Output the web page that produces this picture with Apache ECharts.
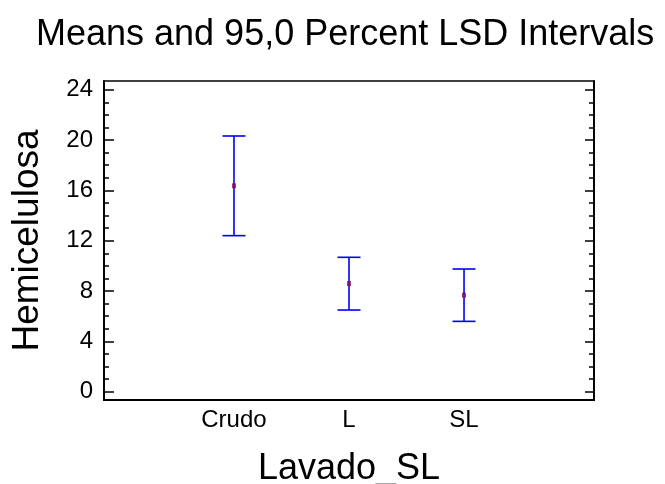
<!DOCTYPE html>
<html>
<head>
<meta charset="utf-8">
<script src="https://cdn.jsdelivr.net/npm/echarts@6/dist/echarts.min.js"></script>
<style>
  html, body { margin: 0; padding: 0; background: #fff; }
  #chart { width: 665px; height: 484px; }
</style>
</head>
<body>
<div id="chart"></div>
<script>
// Group labels and their positions on the x scale
const categories = ['Crudo', 'L', 'SL'];
const categoryPos = [1, 2, 3];

// Group means of Hemicelulosa with 95,0 % LSD interval limits
const means = [16.36, 8.59, 7.67];
const lower = [12.40, 6.49, 5.59];
const upper = [20.32, 10.68, 9.75];

// Y tick values (labelled) and minor ticks
const yMajorTicks = [0, 4, 8, 12, 16, 20, 24];
const yMinorTicks = [];
for (let v = 0; v <= 24; v++) if (v % 4 !== 0) yMinorTicks.push(v);

const FONT = 'Liberation Sans, Arial, sans-serif';
const Y_MIN = -0.66, Y_MAX = 24.69;
const X_MIN = -0.13, X_MAX = 4.13;

const chart = echarts.init(document.getElementById('chart'), null, { renderer: 'canvas' });

function yAxisDef(position, ticks, len, showLabel, withName) {
  const ax = {
    type: 'value', position: position, min: Y_MIN, max: Y_MAX,
    splitLine: { show: false },
    axisLine: { show: true, onZero: false, lineStyle: { color: '#000', width: 1.5 } },
    axisTick: { show: true, inside: true, length: len, customValues: ticks,
                lineStyle: { color: '#000', width: 1.5 } },
    axisLabel: { show: showLabel, customValues: ticks, margin: 11,
                 color: '#000', fontSize: 24, fontFamily: FONT }
  };
  if (withName) {
    ax.name = 'Hemicelulosa';
    ax.nameLocation = 'middle';
    ax.nameGap = 58;
    ax.nameTextStyle = { color: '#000', fontSize: 37, fontFamily: FONT };
  }
  return ax;
}

const errorData = categoryPos.map((x, i) => [x, lower[i], upper[i]]);
const meanData = categoryPos.map((x, i) => [x, means[i]]);

chart.setOption({
  animation: false,
  backgroundColor: '#fff',
  title: {
    text: 'Means and 95,0 Percent LSD Intervals',
    left: 31, top: 12,
    textStyle: { color: '#000', fontSize: 36, fontWeight: 'normal', fontFamily: FONT }
  },
  grid: {
    left: 104, right: 71, top: 81, bottom: 84,
    outerBoundsMode: 'none', containLabel: false,
    show: true, borderColor: '#000', borderWidth: 1.5, backgroundColor: 'transparent'
  },
  xAxis: [{
    type: 'value', min: X_MIN, max: X_MAX,
    name: 'Lavado_SL', nameLocation: 'middle', nameGap: 51,
    nameTextStyle: { color: '#000', fontSize: 36, fontFamily: FONT },
    splitLine: { show: false },
    axisLine: { show: true, onZero: false, lineStyle: { color: '#000', width: 2 } },
    axisTick: { show: false },
    axisLabel: {
      customValues: categoryPos, margin: 8, color: '#000', fontSize: 24, fontFamily: FONT,
      formatter: v => categories[categoryPos.indexOf(Math.round(v))] || ''
    }
  }],
  yAxis: [
    yAxisDef('left', yMajorTicks, 10, true, true),
    yAxisDef('left', yMinorTicks, 5, false, false),
    yAxisDef('right', yMajorTicks, 9, false, false),
    yAxisDef('right', yMinorTicks, 5, false, false)
  ],
  series: [
    {
      type: 'custom',
      yAxisIndex: 0,
      data: errorData,
      renderItem: function (params, api) {
        const x = api.value(0);
        const lo = api.coord([x, api.value(1)]);
        const hi = api.coord([x, api.value(2)]);
        const half = 11.5;
        const style = { stroke: '#0000ff', lineWidth: 1.6 };
        return {
          type: 'group',
          children: [
            { type: 'line', shape: { x1: lo[0], y1: lo[1], x2: hi[0], y2: hi[1] }, style: style },
            { type: 'line', shape: { x1: lo[0] - half, y1: lo[1], x2: lo[0] + half, y2: lo[1] }, style: style },
            { type: 'line', shape: { x1: hi[0] - half, y1: hi[1], x2: hi[0] + half, y2: hi[1] }, style: style }
          ]
        };
      }
    },
    {
      type: 'scatter',
      yAxisIndex: 0,
      data: meanData,
      symbol: 'rect',
      symbolSize: [4, 5],
      itemStyle: { color: '#8a0a5a' },
      z: 5
    }
  ]
});
</script>
</body>
</html>
